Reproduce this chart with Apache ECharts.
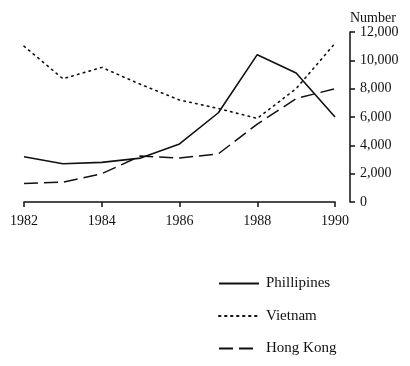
<!DOCTYPE html>
<html>
<head>
<meta charset="utf-8">
<script src="https://cdn.jsdelivr.net/npm/echarts@6/dist/echarts.min.js"></script>
<style>
html,body{margin:0;padding:0;background:#fff;}
#chart{width:410px;height:366px;}
</style>
</head>
<body>
<div id="chart"></div>
<script>
const years = ['1982','1983','1984','1985','1986','1987','1988','1989','1990'];
const phillipines = [3200, 2700, 2800, 3100, 4100, 6300, 10400, 9100, 6000];
const vietnam = [11000, 8700, 9500, 8300, 7200, 6600, 5900, 8000, 11200];
const hongKong = [1300, 1400, 2000, 3250, 3100, 3400, 5500, 7300, 8000];
const yTicks = [0, 2000, 4000, 6000, 8000, 10000, 12000];

const FONT = '"Liberation Serif", "DejaVu Serif", serif';
const INK = '#111';

const chart = echarts.init(document.getElementById('chart'), null, {renderer: 'canvas'});
function fmt(v){ return String(v).replace(/\B(?=(\d{3})+(?!\d))/g, ','); }
chart.setOption({
  animation: false,
  backgroundColor: '#fff',
  textStyle: {fontFamily: FONT, color: INK},
  title: {
    text: 'Number', left: 345, top: 6,
    textStyle: {fontFamily: FONT, fontSize: 14, fontWeight: 'normal', color: INK}
  },
  grid: {left: 24, right: 75, top: 32, bottom: 164},
  legend: {
    orient: 'vertical', left: 213, top: 271,
    itemWidth: 40, itemHeight: 14, itemGap: 17.5,
    itemStyle: {opacity: 0},
    textStyle: {fontFamily: FONT, fontSize: 15, color: INK, padding: [0, 0, 0, 2]},
    data: ['Phillipines', 'Vietnam', 'Hong Kong']
  },
  xAxis: {
    type: 'category', data: years, boundaryGap: false,
    axisLine: {lineStyle: {color: INK, width: 1.5}},
    axisTick: {show: true, interval: 1, length: 5, lineStyle: {color: INK, width: 1.5}},
    axisLabel: {interval: 1, margin: 12, fontFamily: FONT, fontSize: 14, color: INK},
    splitLine: {show: false}
  },
  yAxis: {
    type: 'value', position: 'right', offset: 15,
    min: 0, max: 12000, interval: 2000,
    axisLine: {show: true, lineStyle: {color: INK, width: 1.5}},
    axisTick: {show: true, length: 5, lineStyle: {color: INK, width: 1.5}},
    axisLabel: {margin: 10, fontFamily: FONT, fontSize: 14, color: INK, formatter: v => yTicks.includes(v) ? fmt(v) : ''},
    splitLine: {show: false}
  },
  series: [
    {name: 'Phillipines', type: 'line', data: phillipines, symbol: 'none', color: INK,
     lineStyle: {color: INK, width: 1.6, type: 'solid'}},
    {name: 'Vietnam', type: 'line', data: vietnam, symbol: 'none', color: INK,
     lineStyle: {color: INK, width: 1.6, type: [1.5, 4.5], cap: 'round'}},
    {name: 'Hong Kong', type: 'line', data: hongKong, symbol: 'none', color: INK,
     lineStyle: {color: INK, width: 1.5, type: [14, 6]}}
  ]
});
</script>
</body>
</html>
